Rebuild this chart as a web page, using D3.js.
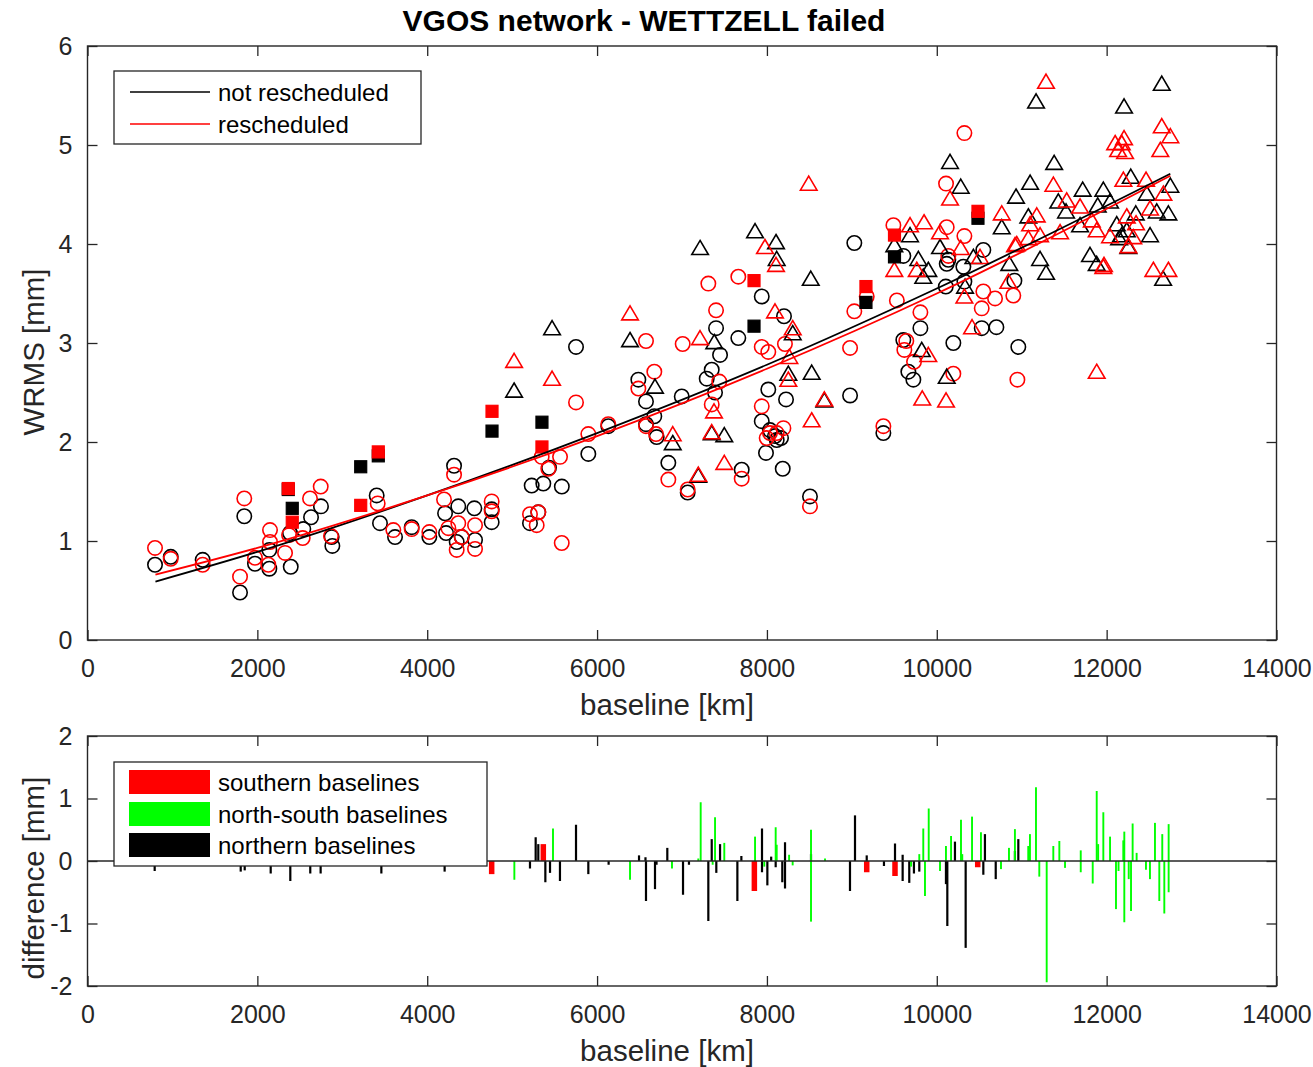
<!DOCTYPE html>
<meta charset="utf-8">
<style>
body { margin: 0; background: #fff; }
svg { font-family: "Liberation Sans", Arial, Helvetica, sans-serif; }
.axis text { fill: #262626; }
.axis line { stroke: #262626; stroke-width: 1.3; }
.axis path { display: none; }
</style>
<body>
<script src="https://cdn.jsdelivr.net/npm/d3@7"></script>
<script>

// northern baselines (circles)
var circNotKm = [795,980,1356,1796,1846,1972,2141,2141,2384,2393,2541,2632,2749,2875,2883,3405,3444,3621,3817,4025,4210,4222,4316,4347,4366,4406,4555,4563,4759,4759,5210,5230,5308,5367,5434,5585,5752,5897,6132,6486,6576,6576,6674,6702,6839,6997,7067,7291,7350,7389,7401,7448,7663,7703,7939,7939,7989,8016,8036,8095,8115,8166,8186,8201,8225,8507,8979,9029,9371,9606,9606,9665,9724,9807,10106,10117,10136,10195,10313,10325,10529,10548,10702,10914,10960];
var circNotW  = [0.76,0.84,0.81,0.48,1.25,0.77,0.91,0.72,1.08,0.74,1.12,1.24,1.35,1.04,0.95,1.46,1.18,1.04,1.14,1.04,1.28,1.08,1.76,0.99,1.35,1.04,1.33,1.01,1.32,1.19,1.18,1.56,1.29,1.58,1.74,1.55,2.96,1.88,2.16,2.63,2.41,2.18,2.26,2.05,1.79,2.46,1.49,2.64,2.73,2.50,3.15,2.88,3.05,1.72,3.47,2.21,1.89,2.53,2.12,2.06,2.02,2.04,1.73,3.27,2.43,1.45,2.47,4.01,2.09,3.03,3.88,2.71,2.63,3.15,3.57,3.80,3.84,3.00,3.77,3.62,3.15,3.94,3.16,3.63,2.96];
var circResKm = [795,980,1356,1796,1846,1972,2129,2149,2149,2326,2373,2534,2620,2746,2867,3417,3601,3817,4025,4198,4249,4316,4347,4366,4406,4563,4563,4759,4759,5210,5289,5308,5348,5426,5564,5584,5752,5897,6132,6486,6576,6576,6674,6694,6839,7008,7067,7310,7350,7401,7439,7663,7703,7939,7939,7997,8016,8036,8115,8194,8212,8507,8979,9029,9175,9371,9489,9530,9618,9641,9732,9807,10109,10117,10136,10195,10325,10325,10529,10548,10686,10901,10949];
var circResW  = [0.93,0.82,0.76,0.64,1.43,0.83,0.76,1.11,0.99,0.88,1.06,1.03,1.43,1.55,1.05,1.38,1.11,1.12,1.09,1.42,1.13,1.67,0.91,1.18,1.04,1.16,0.92,1.40,1.30,1.27,1.16,1.29,1.85,1.73,1.85,0.98,2.40,2.08,2.18,2.54,3.02,2.16,2.71,2.08,1.62,2.99,1.52,3.60,2.38,3.33,2.61,3.67,1.63,2.96,2.36,2.04,2.91,2.09,2.09,2.14,2.99,1.35,2.95,3.32,3.47,2.16,4.19,3.43,2.93,3.02,2.81,3.31,4.61,4.17,3.88,2.69,5.12,4.08,3.35,3.52,3.45,3.48,2.63];

// north-south baselines (triangles)
var triNotKm = [5023,5470,6388,6682,6891,7192,7213,7350,7380,7498,7860,8107,8115,8252,8304,8516,8527,8676,9500,9685,9783,9823,9841,9900,10038,10117,10156,10282,10333,10431,10765,10854,10933,11078,11099,11169,11216,11287,11382,11431,11522,11687,11718,11804,11883,11895,11961,12040,12119,12147,12178,12205,12237,12256,12284,12343,12472,12511,12590,12649,12665,12727,12750];
var triNotW  = [2.52,3.15,3.03,2.56,1.99,1.66,3.96,2.09,3.01,2.07,4.13,4.02,3.85,2.69,3.10,3.65,2.70,2.42,3.99,4.09,3.85,2.93,3.67,3.74,3.97,2.66,4.83,4.58,3.57,3.87,4.17,3.80,4.48,4.28,4.62,5.44,3.85,3.71,4.82,4.43,4.33,4.19,4.55,3.89,3.80,4.39,4.55,4.43,4.20,4.06,4.09,5.39,4.14,3.97,4.68,4.31,4.51,4.09,4.33,5.62,3.65,4.31,4.59];
var triResKm = [5023,5470,6388,6891,7192,7212,7350,7377,7498,7977,8095,8107,8252,8264,8304,8492,8527,8676,9500,9685,9764,9829,9850,9900,10038,10109,10156,10282,10325,10415,10509,10765,10843,10921,10941,11078,11099,11177,11216,11286,11373,11452,11530,11687,11825,11883,11883,11961,11969,12040,12100,12135,12178,12197,12205,12217,12237,12256,12314,12346,12464,12511,12550,12632,12649,12668,12727,12750];
var triResW  = [2.82,2.64,3.30,2.08,1.67,3.05,2.10,2.31,1.79,3.97,3.32,3.79,2.63,2.86,3.15,4.61,2.22,2.43,3.74,4.19,3.74,2.44,4.22,2.88,4.12,2.42,4.46,3.96,3.47,3.16,3.87,4.31,3.62,3.99,4.00,4.06,4.20,4.29,4.09,5.64,4.60,4.12,4.44,4.38,4.24,4.14,2.71,3.77,3.79,4.08,5.02,4.95,5.02,4.65,5.07,4.93,4.28,3.98,4.07,4.21,4.65,4.36,3.74,4.95,5.19,4.51,3.74,5.09];

// southern baselines (squares)
var sqKm     = [2364,2411,3217,3424,4763,5351,7848,9166,9502,10485];
var sqNotW   = [1.52,1.33,1.75,1.86,2.11,2.20,3.17,3.41,3.87,4.26];
var sqResW   = [1.53,1.19,1.36,1.90,2.31,1.95,3.63,3.57,4.09,4.33];

// fitted curves
var fitKm  = [800,2000,4000,6000,8000,10000,12750];
var fitNot = [0.59,0.89,1.46,2.09,2.78,3.55,4.71];
var fitRes = [0.66,0.93,1.46,2.06,2.74,3.50,4.69];

// difference (not rescheduled - rescheduled)
var southKm   = [2411,3217,4759,5367,7852,9175,9508,10482];
var southDiff = [0.14,0.39,-0.21,0.27,-0.48,-0.18,-0.24,-0.10];
var nsKm   = [5026,5481,6388,6882,7192,7220,7361,7389,7498,7860,7969,8103,8115,8261,8303,8519,8519,8684,9697,9794,9841,9861,9905,10038,10108,10168,10285,10300,10415,10520,10756,10850,10920,11077,11097,11168,11207,11294,11372,11443,11510,11695,11695,11836,11883,11900,11961,12040,12110,12140,12196,12208,12208,12260,12287,12306,12353,12463,12510,12569,12620,12655,12679,12730,12730];
var nsDiff = [-0.30,0.52,-0.30,-0.12,0.04,0.94,-0.06,0.70,0.29,0.39,-0.09,0.54,0.26,0.10,-0.07,0.50,-0.97,0.04,-0.09,0.11,0.52,-0.56,0.84,-0.16,0.24,0.40,0.66,0.11,0.71,0.46,-0.13,0.21,0.51,0.24,0.43,1.18,-0.25,-1.94,0.24,0.32,-0.11,0.17,-0.18,-0.36,1.12,0.27,0.78,0.39,-0.77,-0.16,0.33,0.47,-0.98,-0.29,-0.80,0.60,0.13,-0.14,-0.29,0.61,-0.64,0.43,-0.84,0.59,-0.50];
var northKm   = [791,1804,1851,2157,2388,2623,2745,2890,3460,4205,4771,5210,5277,5308,5391,5446,5563,5752,5897,6136,6494,6570,6576,6682,6700,6827,7012,7082,7310,7350,7404,7448,7652,7699,7942,7942,8005,8050,8103,8181,8213,8213,8519,8978,9037,9175,9378,9508,9598,9598,9676,9731,9794,10108,10124,10214,10340,10548,10567,10694,10920,10960];
var northDiff = [-0.16,-0.17,-0.15,-0.20,-0.32,-0.20,-0.20,-0.08,-0.20,-0.17,-0.10,-0.12,0.38,0.27,-0.34,-0.19,-0.32,0.58,-0.21,-0.06,0.09,0.06,-0.64,-0.45,-0.06,0.21,-0.54,-0.06,-0.96,0.35,-0.19,0.27,-0.64,0.08,0.52,-0.18,-0.39,0.07,-0.10,-0.34,0.30,-0.44,0.11,-0.48,0.73,0.09,-0.08,0.28,-0.32,0.10,-0.35,-0.20,-0.17,-0.37,-1.04,0.31,-1.39,-0.22,0.43,-0.29,0.16,0.35];

var xTicks = [0,2000,4000,6000,8000,10000,12000,14000];
var yTicks = [0,1,2,3,4,5,6];
var dTicks = [-2,-1,0,1,2];

var width = 1313, height = 1067;
var svg = d3.select("body").append("svg")
    .attr("width", width)
    .attr("height", height);

var x = d3.scaleLinear().domain([0, 14000]).range([87.5, 1276.5]);
var y = d3.scaleLinear().domain([0, 6]).range([640, 46]);
var yd = d3.scaleLinear().domain([-2, 2]).range([986, 736]);

function zip(a, b) { return a.map(function (v, i) { return [v, b[i]]; }); }

// axes box with ticks inside on all four sides
function frame(ys, yt) {
  var top = ys.range()[1], bot = ys.range()[0];
  svg.append("g").attr("class", "axis").attr("transform", "translate(0," + bot + ")")
    .call(d3.axisBottom(x).tickValues(xTicks).tickSize(-10).tickPadding(19).tickFormat(String))
    .selectAll("text").style("font-size", "25px");
  svg.append("g").attr("class", "axis").attr("transform", "translate(0," + top + ")")
    .call(d3.axisTop(x).tickValues(xTicks).tickSize(-10).tickFormat(""));
  svg.append("g").attr("class", "axis").attr("transform", "translate(87.5,0)")
    .call(d3.axisLeft(ys).tickValues(yt).tickSize(-10).tickPadding(15).tickFormat(String))
    .selectAll("text").style("font-size", "25px");
  svg.append("g").attr("class", "axis").attr("transform", "translate(1276.5,0)")
    .call(d3.axisRight(ys).tickValues(yt).tickSize(-10).tickFormat(""));
  svg.append("rect")
    .attr("x", 87.5).attr("y", top).attr("width", 1189).attr("height", bot - top)
    .attr("fill", "none").attr("stroke", "#262626").attr("stroke-width", 1.4);
}

// ---------- top panel ----------
var circ = function (g, km, w, col) {
  g.selectAll(null).data(zip(km, w)).enter().append("circle")
    .attr("cx", function (d) { return x(d[0]); })
    .attr("cy", function (d) { return y(d[1]); })
    .attr("r", 7.2)
    .attr("fill", "none").attr("stroke", col).attr("stroke-width", 1.6);
};
var tri = function (g, km, w, col) {
  g.selectAll(null).data(zip(km, w)).enter().append("path")
    .attr("d", "M0,-7.5L8.3,6.6L-8.3,6.6Z")
    .attr("transform", function (d) { return "translate(" + x(d[0]) + "," + y(d[1]) + ")"; })
    .attr("fill", "none").attr("stroke", col).attr("stroke-width", 1.6);
};
var sq = function (g, km, w, col) {
  g.selectAll(null).data(zip(km, w)).enter().append("rect")
    .attr("x", function (d) { return x(d[0]) - 6; })
    .attr("y", function (d) { return y(d[1]) - 6; })
    .attr("width", 12).attr("height", 12)
    .attr("fill", col).attr("stroke", col).attr("stroke-width", 1.2);
};

var pts = svg.append("g");
circ(pts, circNotKm, circNotW, "#000");
circ(pts, circResKm, circResW, "#f00");
tri(pts, triNotKm, triNotW, "#000");
tri(pts, triResKm, triResW, "#f00");
sq(pts, sqKm, sqNotW, "#000");
sq(pts, sqKm, sqResW, "#f00");

var line = d3.line()
  .x(function (d) { return x(d[0]); })
  .y(function (d) { return y(d[1]); })
  .curve(d3.curveMonotoneX);
svg.append("path").attr("d", line(zip(fitKm, fitNot)))
  .attr("fill", "none").attr("stroke", "#000").attr("stroke-width", 1.8);
svg.append("path").attr("d", line(zip(fitKm, fitRes)))
  .attr("fill", "none").attr("stroke", "#f00").attr("stroke-width", 1.8);

frame(y, yTicks);

svg.append("text").attr("x", 644).attr("y", 31).attr("text-anchor", "middle")
  .style("font-size", "30px").style("font-weight", "bold").text("VGOS network - WETTZELL failed");
svg.append("text").attr("x", 667).attr("y", 715).attr("text-anchor", "middle")
  .style("font-size", "29.5px").attr("fill", "#262626").text("baseline [km]");
svg.append("text").attr("transform", "translate(44,352) rotate(-90)").attr("text-anchor", "middle")
  .style("font-size", "29.5px").attr("fill", "#262626").text("WRMS [mm]");

// legend (top)
var lg = svg.append("g");
lg.append("rect").attr("x", 114).attr("y", 71).attr("width", 307).attr("height", 73)
  .attr("fill", "#fff").attr("stroke", "#262626").attr("stroke-width", 1.3);
[["not rescheduled", "#000", 92], ["rescheduled", "#f00", 124]].forEach(function (e) {
  lg.append("line").attr("x1", 130).attr("x2", 210).attr("y1", e[2]).attr("y2", e[2])
    .attr("stroke", e[1]).attr("stroke-width", 1.5);
  lg.append("text").attr("x", 218).attr("y", e[2] + 9).style("font-size", "24px")
    .attr("fill", "#000").text(e[0]);
});

// ---------- bottom panel ----------
function bars(km, diff, col, w) {
  svg.append("g").selectAll("rect").data(zip(km, diff)).enter().append("rect")
    .attr("x", function (d) { return x(d[0]) - w / 2; })
    .attr("y", function (d) { return yd(Math.max(0, d[1])); })
    .attr("width", w)
    .attr("height", function (d) { return Math.abs(yd(d[1]) - yd(0)); })
    .attr("fill", col);
}
bars(northKm, northDiff, "#000", 2.2);
bars(nsKm, nsDiff, "#0f0", 1.9);
bars(southKm, southDiff, "#f00", 5.5);
svg.append("line").attr("x1", 87.5).attr("x2", 1276.5).attr("y1", yd(0)).attr("y2", yd(0))
  .attr("stroke", "#262626").attr("stroke-width", 1.5);

frame(yd, dTicks);

svg.append("text").attr("x", 667).attr("y", 1061).attr("text-anchor", "middle")
  .style("font-size", "29.5px").attr("fill", "#262626").text("baseline [km]");
svg.append("text").attr("transform", "translate(44,878) rotate(-90)").attr("text-anchor", "middle")
  .style("font-size", "29.5px").attr("fill", "#262626").text("difference [mm]");

var lg2 = svg.append("g");
lg2.append("rect").attr("x", 114).attr("y", 762).attr("width", 373).attr("height", 104)
  .attr("fill", "#fff").attr("stroke", "#262626").attr("stroke-width", 1.3);
[["southern baselines", "#f00", 770], ["north-south baselines", "#0f0", 802], ["northern baselines", "#000", 833]].forEach(function (e) {
  lg2.append("rect").attr("x", 129).attr("y", e[2]).attr("width", 81).attr("height", 24).attr("fill", e[1]);
  lg2.append("text").attr("x", 218).attr("y", e[2] + 21).style("font-size", "24px")
    .attr("fill", "#000").text(e[0]);
});

</script>
